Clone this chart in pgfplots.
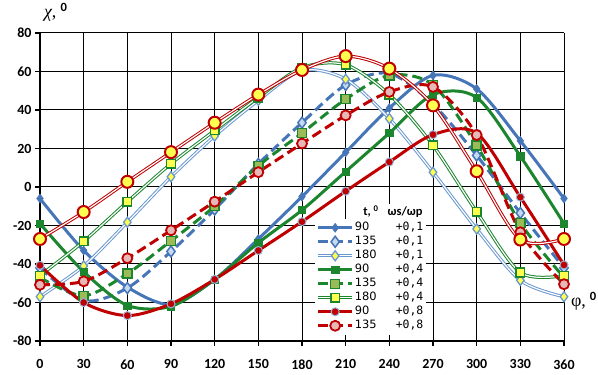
\documentclass[border=0pt]{standalone}
\usepackage{fontspec}
\setmainfont{Carlito}
\setmonofont{DejaVu Sans Mono}
\newfontfamily\serifgr{Liberation Serif}
\newfontfamily\dejavu{DejaVu Sans}
\usepackage{pgfplots}
\usepackage{pgfplotstable}
\pgfplotsset{compat=1.18}

\definecolor{cblue}{RGB}{70,118,184}
\definecolor{cbluel}{RGB}{197,217,241}
\definecolor{cbl}{RGB}{105,152,208}
\definecolor{cbord}{RGB}{149,179,215}
\definecolor{cgreen}{RGB}{28,134,46}
\definecolor{colive}{RGB}{155,187,89}
\definecolor{cred}{RGB}{192,0,0}
\definecolor{cpink}{RGB}{230,185,184}
\definecolor{cyel}{RGB}{255,255,80}

\pgfplotstableread{
p    a     b      c      d      e      f      g      h      i
0    -6    -42    -57    -19    -47    -46    -40.7  -50.8  -27
30   -33   -59    -41    -44    -56.5  -28.2  -60    -49    -13
60   -52   -52.5  -18.3  -61.5  -45    -7.7   -66.8  -37    2.7
90   -61   -33.5  5.3    -62    -28    12.1   -60.7  -22.5  18.1
120  -48   -11.7  26.5   -48    -10    29.4   -48    -7.6   33.4
150  -27   12     45     -29    11     46.5   -33    7.7    48
180  -5    33.4   60.5   -12    28     62     -18    22.6   60.8
210  18    53     56     8      45.6   63.5   -2.2   37.2   68
240  41    59     35.5   28     58     48     13     49.4   61.5
270  58    43     7.7    48     53     21.6   27.2   52     42.4
300  51    16.4   -21.8  46.5   21.6   -12.9  28     27     8.2
330  24    -13.5  -48.5  16     -18.7  -44.4  -5.3   -23.5  -27.3
360  -6    -42    -57    -19    -47    -46    -40.5  -50.5  -27
}\data

\begin{document}
\begin{tikzpicture}
\useasboundingbox (-40bp,-34bp) rectangle (558bp,341bp);
\begin{axis}[
  scale only axis, width=524bp, height=308bp,
  xmin=0, xmax=360, ymin=-80, ymax=80,
  xtick={0,30,...,360}, ytick={-80,-60,...,80},
  axis lines=left, axis line style={-, black, line width=1.8bp},
  grid=major, grid style={black, line width=1bp},
  tick align=outside, major tick length=5bp,
  tick style={black, line width=1.4bp},
  clip=false,
  /pgf/number format/assume math mode=true,
  tick label style={font=\bfseries\fontsize{14}{14}\selectfont},
  xticklabel style={yshift=-10bp},
  legend style={at={(axis cs:188.5,-16.4)}, anchor=north west, draw=none,
    fill=white, inner sep=2bp,
    font=\dejavu\fontsize{11.5}{12}\selectfont,
    nodes={inner sep=1bp, text height=9bp, text depth=3bp},
    cells={anchor=west}},
  legend image code/.code={\draw[mark repeat=2,mark phase=2] plot coordinates {(0bp,0bp) (17bp,0bp) (34bp,0bp)};},
]
% 90 / 0.1
\addplot[cblue, line width=3bp, smooth, mark=diamond*, mark size=4.5bp,
  mark options={solid, fill=cblue, draw=cblue, line width=0.5bp}] table[x=p,y=a]{\data};
\addlegendentry{\makebox[41bp][l]{90}\texttt{+0,1}}
% 135 / 0.1
\addplot[cblue, line width=3bp, smooth, dash pattern=on 10bp off 5bp, mark=diamond*, mark size=5.5bp,
  mark options={solid, fill=cbluel, draw=cblue, line width=1.5bp}] table[x=p,y=b]{\data};
\addlegendentry{\makebox[41bp][l]{135}\texttt{+0,1}}
% 180 / 0.1
\addplot[cbl, line width=1bp, double=white, double distance=1.2bp, smooth, forget plot] table[x=p,y=c]{\data};
\addplot[only marks, mark=diamond*, mark size=5bp,
  mark options={solid, fill=cyel, draw=cbl, line width=1.3bp},
  legend image code/.code={\draw[cbl, line width=1bp, double=white, double distance=1.2bp] (0bp,0bp) -- (34bp,0bp);
    \draw[mark repeat=2,mark phase=2] plot coordinates {(0bp,0bp) (17bp,0bp) (34bp,0bp)};}] table[x=p,y=c]{\data};
\addlegendentry{\makebox[41bp][l]{180}\texttt{+0,1}}
% 90 / 0.4
\addplot[cgreen, line width=3bp, smooth, mark=square*, mark size=3.6bp,
  mark options={solid, fill=cgreen, draw=cgreen, line width=0.5bp}] table[x=p,y=d]{\data};
\addlegendentry{\makebox[41bp][l]{90}\texttt{+0,4}}
% 135 / 0.4
\addplot[cgreen, line width=3bp, smooth, dash pattern=on 10bp off 5bp, mark=square*, mark size=4.5bp,
  mark options={solid, fill=colive, draw=cgreen, line width=1.5bp}] table[x=p,y=e]{\data};
\addlegendentry{\makebox[41bp][l]{135}\texttt{+0,4}}
% 180 / 0.4
\addplot[cgreen, line width=1bp, double=white, double distance=1.2bp, smooth, forget plot] table[x=p,y=f]{\data};
\addplot[only marks, mark=square*, mark size=4.3bp,
  mark options={solid, fill=cyel, draw=cgreen, line width=1.5bp},
  legend image code/.code={\draw[cgreen, line width=1bp, double=white, double distance=1.2bp] (0bp,0bp) -- (34bp,0bp);
    \draw[mark repeat=2,mark phase=2] plot coordinates {(0bp,0bp) (17bp,0bp) (34bp,0bp)};}] table[x=p,y=f]{\data};
\addlegendentry{\makebox[41bp][l]{180}\texttt{+0,4}}
% 90 / 0.8
\addplot[cred, line width=3bp, smooth, mark=*, mark size=4bp,
  mark options={solid, fill=cred, draw=cbord, line width=1bp}] table[x=p,y=g]{\data};
\addlegendentry{\makebox[41bp][l]{90}\texttt{+0,8}}
% 135 / 0.8
\addplot[cred, line width=3bp, smooth, dash pattern=on 10bp off 5bp, mark=*, mark size=5bp,
  mark options={solid, fill=cpink, draw=cred, line width=1.8bp}] table[x=p,y=h]{\data};
\addlegendentry{\makebox[41bp][l]{135}\texttt{+0,8}}
% 180 / 0.8
\addplot[cred, line width=1bp, double=white, double distance=1.2bp, smooth, forget plot] table[x=p,y=i]{\data};
\addplot[only marks, mark=*, mark size=6bp, forget plot,
  mark options={solid, fill=cyel, draw=cred, line width=2bp}] table[x=p,y=i]{\data};

\node[anchor=west, fill=white, inner sep=1.5bp, font=\bfseries\fontsize{12.5}{12}\selectfont]
  at (axis cs:221,-12.8) {t, \textsuperscript{0}\hspace{9bp}ωs/ωp};
\node[font=\fontsize{18}{18}\selectfont] at (axis description cs:0.03,1.068)
  {{\serifgr\itshape χ}{\serifgr,} \textsuperscript{\bfseries 0}};
\node[font=\fontsize{18}{18}\selectfont] at (axis description cs:1.038,0.13)
  {{\serifgr φ,} \textsuperscript{\bfseries 0}};
\end{axis}
\end{tikzpicture}
\end{document}
